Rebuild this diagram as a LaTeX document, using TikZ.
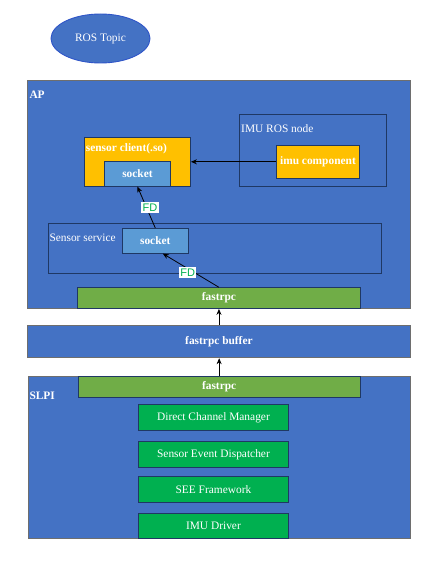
\documentclass[tikz,border=0pt]{standalone}
\usepackage{fontspec}
\setmainfont{Liberation Serif}
\newfontfamily\fdfont{Liberation Sans}
\usetikzlibrary{arrows.meta,shapes.geometric}
\definecolor{paneblue}{HTML}{4472C4}
\definecolor{navy}{HTML}{1F3864}
\definecolor{outergray}{HTML}{6E6E6E}
\definecolor{ellipseedge}{HTML}{2F55C8}
\definecolor{amber}{HTML}{FFC000}
\definecolor{socketblue}{HTML}{5B9BD5}
\definecolor{rpcgreen}{HTML}{70AD47}
\definecolor{layergreen}{HTML}{00B050}
\definecolor{fdgreen}{HTML}{00B050}
\tikzset{
  txt/.style={font=\fontsize{11.4}{13}\selectfont, text=white},
  boldtxt/.style={font=\fontsize{11.4}{13}\selectfont\bfseries},
  boxbase/.style={rectangle, inner sep=0pt, anchor=north west, line width=0.9pt, txt},
  outerpane/.style={boxbase, fill=paneblue, draw=outergray},
  innerpane/.style={boxbase, fill=paneblue, draw=navy},
  amberbox/.style={boxbase, fill=amber, draw=navy, boldtxt},
  socketbox/.style={boxbase, fill=socketblue, draw=navy, boldtxt},
  rpcbox/.style={boxbase, fill=rpcgreen, draw=navy, boldtxt},
  layerbox/.style={boxbase, fill=layergreen, draw=navy},
  caption/.style={txt, anchor=base west, inner sep=0pt},
  flow/.style={draw=black, line width=0.8pt, -{Stealth[length=6pt,width=5pt]}},
  fdtag/.style={fill=white, inner sep=1.3pt, text=fdgreen, font=\fontsize{11}{12}\selectfont\fdfont}
}
\begin{document}
\begin{tikzpicture}[x=1pt, y=-1pt]
\useasboundingbox[fill=white] (0,0) rectangle (443,564);

% topic bubble
\node[ellipse, fill=paneblue, draw=ellipseedge, line width=0.9pt, inner sep=0pt,
      minimum width=99pt, minimum height=49pt, txt] (topic) at (100.5,38.5) {ROS Topic};

% application processor
\node[outerpane, minimum width=383pt, minimum height=228pt] (ap) at (27,80) {};
\node[caption, boldtxt] (aplabel) at (29.3,98.7) {AP};

\node[innerpane, minimum width=147pt, minimum height=71.7pt] (rosnode) at (239,114) {};
\node[caption] (roslabel) at (241,132.3) {IMU ROS node};
\node[amberbox, minimum width=83pt, minimum height=32.7pt] (imu) at (276,145) {imu component};

\node[amberbox, minimum width=106pt, minimum height=49pt] (client) at (84,136.7) {};
\node[caption, boldtxt] (clientlabel) at (85.7,152) {sensor client(.so)};
\node[socketbox, minimum width=66pt, minimum height=24.4pt] (sockA) at (104,161.3) {socket};

\node[innerpane, minimum width=333.3pt, minimum height=50pt] (service) at (47.7,223.3) {};
\node[caption] (servicelabel) at (49.3,241.7) {Sensor service};
\node[socketbox, minimum width=65.7pt, minimum height=24.7pt] (sockB) at (122,228) {socket};

\node[rpcbox, minimum width=283pt, minimum height=20.7pt] (rpcAP) at (77,287.3) {fastrpc};

% shared buffer
\node[outerpane, minimum width=383pt, minimum height=32.3pt, boldtxt] (buffer) at (27,325) {fastrpc buffer};

% sensor low power island
\node[outerpane, minimum width=382pt, minimum height=162pt] (slpi) at (28,375.7) {};
\node[caption, boldtxt] (slpilabel) at (29.3,399.3) {SLPI};
\node[rpcbox, minimum width=282pt, minimum height=21pt] (rpcSLPI) at (77.7,375.7) {fastrpc};

\node[layerbox, minimum width=149.4pt, minimum height=26pt] (dcm) at (138.3,404) {Direct Channel Manager};
\node[layerbox, minimum width=149.4pt, minimum height=26.6pt] (sed) at (138.3,440.7) {Sensor Event Dispatcher};
\node[layerbox, minimum width=149.4pt, minimum height=26.3pt] (see) at (138.3,475.7) {SEE Framework};
\node[layerbox, minimum width=149.4pt, minimum height=24.7pt] (drv) at (138.3,513) {IMU Driver};

% data flow
\draw[flow] (imu.west) -- (imu.west -| client.east);
\draw[flow] (sockB.north) -- (sockA.south);
\draw[flow] (rpcAP.north) -- ([xshift=7.5pt]sockB.south);
\draw[flow] (buffer.north) -- (buffer.north |- ap.south);
\draw[flow] (rpcSLPI.north) -- (rpcSLPI.north |- buffer.south);

\node[fdtag] (fdA) at (150,207.5) {FD};
\node[fdtag] (fdB) at (187.7,272.5) {FD};
\end{tikzpicture}
\end{document}
